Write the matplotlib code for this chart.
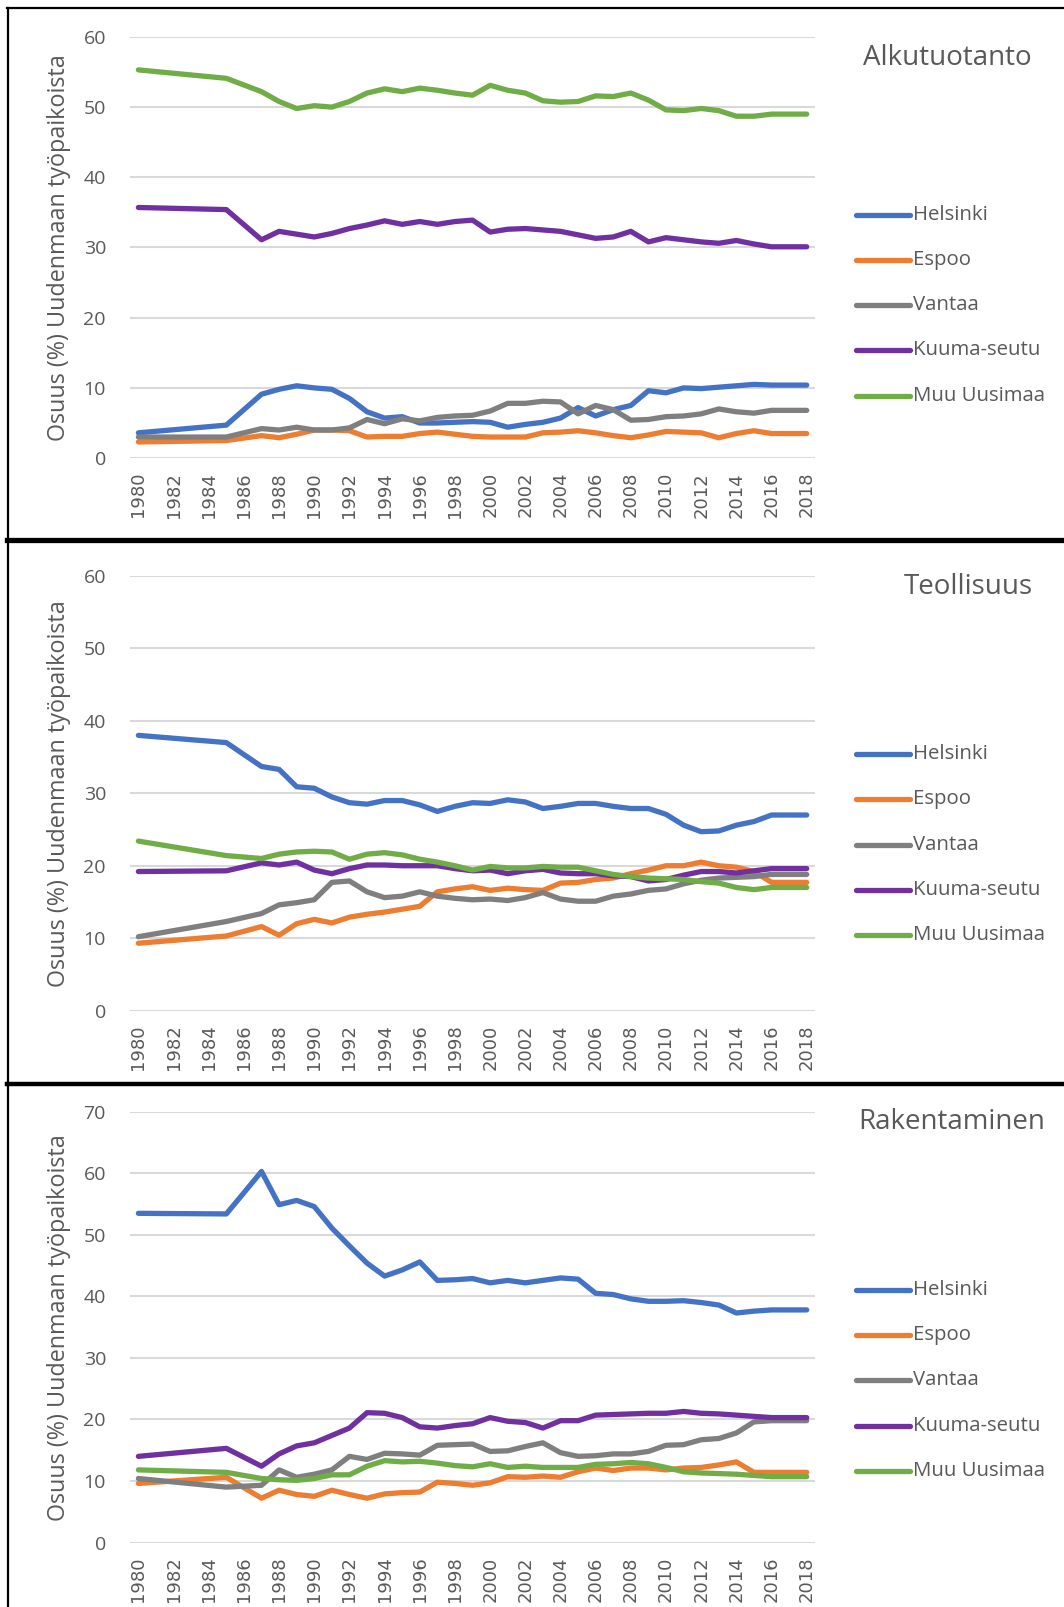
import matplotlib
matplotlib.use("Agg")
import matplotlib.pyplot as plt
from matplotlib.lines import Line2D

W, H = 1064, 1607

years = [1980, 1985] + list(range(1987, 2019))
tick_years = list(range(1980, 2019, 2))
series_names = ["Helsinki", "Espoo", "Vantaa", "Kuuma-seutu", "Muu Uusimaa"]
colors = ["#4472C4", "#ED7D31", "#7F7F7F", "#7030A0", "#70AD47"]
ylabel = "Osuus (%) Uudenmaan työpaikoista"

# Alkutuotanto
helsinki1 = [3.6, 4.7, 9.1, 9.8, 10.3, 10.0, 9.8, 8.5, 6.6, 5.7, 5.9, 5.0, 5.0, 5.1, 5.2, 5.1, 4.4, 4.8, 5.1, 5.7, 7.2, 6.0, 6.9, 7.5, 9.6, 9.3, 10.0, 9.9, 10.1, 10.3, 10.5, 10.4, 10.4, 10.4]
espoo1 = [2.3, 2.5, 3.2, 2.9, 3.4, 4.0, 4.0, 3.9, 3.0, 3.1, 3.1, 3.5, 3.7, 3.4, 3.1, 3.0, 3.0, 3.0, 3.6, 3.7, 3.9, 3.6, 3.2, 2.9, 3.3, 3.8, 3.7, 3.6, 2.9, 3.5, 3.9, 3.5, 3.5, 3.5]
vantaa1 = [3.0, 3.0, 4.2, 4.0, 4.4, 4.0, 4.0, 4.3, 5.5, 4.9, 5.6, 5.3, 5.8, 6.0, 6.1, 6.7, 7.8, 7.8, 8.1, 8.0, 6.3, 7.5, 6.9, 5.4, 5.5, 5.9, 6.0, 6.3, 7.0, 6.6, 6.4, 6.8, 6.8, 6.8]
kuuma1 = [35.7, 35.4, 31.1, 32.3, 31.9, 31.5, 32.0, 32.7, 33.2, 33.8, 33.3, 33.7, 33.3, 33.7, 33.9, 32.2, 32.6, 32.7, 32.5, 32.3, 31.8, 31.3, 31.5, 32.3, 30.8, 31.4, 31.1, 30.8, 30.6, 31.0, 30.5, 30.1, 30.1, 30.1]
muu1 = [55.3, 54.1, 52.2, 50.8, 49.8, 50.2, 50.0, 50.8, 52.0, 52.6, 52.2, 52.7, 52.4, 52.0, 51.7, 53.1, 52.4, 52.0, 50.9, 50.7, 50.8, 51.6, 51.5, 52.0, 51.0, 49.6, 49.5, 49.8, 49.5, 48.7, 48.7, 49.0, 49.0, 49.0]

# Teollisuus
helsinki2 = [38.0, 37.0, 33.7, 33.3, 30.9, 30.7, 29.5, 28.7, 28.5, 29.0, 29.0, 28.4, 27.5, 28.2, 28.7, 28.6, 29.1, 28.8, 27.9, 28.2, 28.6, 28.6, 28.2, 27.9, 27.9, 27.1, 25.6, 24.7, 24.8, 25.6, 26.1, 27.0, 27.0, 27.0]
espoo2 = [9.3, 10.3, 11.6, 10.4, 12.0, 12.6, 12.1, 12.9, 13.3, 13.6, 14.0, 14.4, 16.4, 16.8, 17.1, 16.6, 16.9, 16.7, 16.6, 17.6, 17.7, 18.1, 18.3, 18.9, 19.4, 20.0, 20.0, 20.5, 20.0, 19.8, 19.2, 17.7, 17.7, 17.7]
vantaa2 = [10.2, 12.3, 13.4, 14.6, 14.9, 15.3, 17.7, 17.9, 16.4, 15.6, 15.8, 16.4, 15.8, 15.5, 15.3, 15.4, 15.2, 15.6, 16.3, 15.4, 15.1, 15.1, 15.8, 16.1, 16.6, 16.8, 17.5, 18.0, 18.3, 18.4, 18.5, 18.8, 18.8, 18.8]
kuuma2 = [19.2, 19.3, 20.4, 20.1, 20.5, 19.4, 18.9, 19.6, 20.1, 20.1, 20.0, 20.0, 20.0, 19.6, 19.3, 19.4, 18.9, 19.3, 19.5, 19.0, 18.9, 18.9, 18.6, 18.5, 17.9, 18.1, 18.7, 19.2, 19.2, 19.0, 19.3, 19.6, 19.6, 19.6]
muu2 = [23.4, 21.4, 21.0, 21.6, 21.9, 22.0, 21.9, 20.9, 21.6, 21.8, 21.5, 20.9, 20.5, 20.0, 19.4, 19.9, 19.7, 19.7, 19.9, 19.8, 19.8, 19.3, 18.8, 18.5, 18.3, 18.2, 18.1, 17.8, 17.6, 17.0, 16.7, 17.0, 17.0, 17.0]

# Rakentaminen
helsinki3 = [53.5, 53.4, 60.3, 54.9, 55.6, 54.6, 51.1, 48.2, 45.4, 43.3, 44.3, 45.6, 42.6, 42.7, 42.9, 42.2, 42.6, 42.2, 42.6, 43.0, 42.8, 40.5, 40.3, 39.6, 39.2, 39.2, 39.3, 39.0, 38.6, 37.3, 37.6, 37.8, 37.8, 37.8]
espoo3 = [9.6, 10.6, 7.2, 8.5, 7.8, 7.5, 8.5, 7.8, 7.2, 7.9, 8.1, 8.2, 9.8, 9.6, 9.3, 9.7, 10.7, 10.6, 10.8, 10.6, 11.5, 12.1, 11.7, 12.1, 12.1, 11.8, 12.1, 12.2, 12.6, 13.1, 11.4, 11.4, 11.4, 11.4]
vantaa3 = [10.4, 9.0, 9.3, 11.8, 10.6, 11.1, 11.8, 14.0, 13.5, 14.5, 14.4, 14.2, 15.8, 15.9, 16.0, 14.8, 14.9, 15.6, 16.2, 14.6, 14.0, 14.1, 14.4, 14.4, 14.8, 15.8, 15.9, 16.7, 16.9, 17.8, 19.6, 19.8, 19.8, 19.8]
kuuma3 = [14.0, 15.3, 12.4, 14.4, 15.7, 16.2, 17.4, 18.6, 21.1, 21.0, 20.3, 18.8, 18.6, 19.0, 19.3, 20.3, 19.7, 19.5, 18.6, 19.8, 19.8, 20.7, 20.8, 20.9, 21.0, 21.0, 21.3, 21.0, 20.9, 20.7, 20.5, 20.3, 20.3, 20.3]
muu3 = [11.8, 11.4, 10.4, 10.2, 10.1, 10.4, 11.0, 11.0, 12.4, 13.3, 13.1, 13.2, 12.9, 12.5, 12.3, 12.8, 12.2, 12.4, 12.2, 12.2, 12.2, 12.7, 12.8, 13.0, 12.8, 12.2, 11.5, 11.3, 11.2, 11.1, 10.9, 10.7, 10.7, 10.7]

panels = [
    dict(title="Alkutuotanto", data=[helsinki1, espoo1, vantaa1, kuuma1, muu1],
         ymax=60, top=36.9, bottom=458.1, title_xy=(947, 58),
         leg_y=[215, 260, 305, 350, 396], ylab_y=248),
    dict(title="Teollisuus", data=[helsinki2, espoo2, vantaa2, kuuma2, muu2],
         ymax=60, top=576.0, bottom=1010.6, title_xy=(968, 587),
         leg_y=[754, 799, 845, 890, 935], ylab_y=794),
    dict(title="Rakentaminen", data=[helsinki3, espoo3, vantaa3, kuuma3, muu3],
         ymax=70, top=1111.8, bottom=1542.5, title_xy=(952, 1122),
         leg_y=[1290, 1335, 1380, 1426, 1471], ylab_y=1328),
]

TXT = "#595959"
FONT = ["Open Sans", "DejaVu Sans"]

fig = plt.figure(figsize=(W / 100, H / 100), dpi=100)
fig.patch.set_facecolor("white")


def fx(x):
    return x / W


def fy(y):
    return 1 - y / H


x_left, x_right = 129.6, 815.5
for p in panels:
    ax = fig.add_axes([fx(x_left), fy(p["bottom"]), (x_right - x_left) / W,
                       (p["bottom"] - p["top"]) / H])
    ax.set_xlim(1979.5, 2018.5)
    ax.set_ylim(0, p["ymax"])
    ax.set_yticks(list(range(0, p["ymax"] + 1, 10)))
    ax.set_xticks(tick_years)
    ax.set_xticklabels([str(y) for y in tick_years], rotation=90,
                       fontsize=13, color=TXT, family=["DejaVu Sans"])
    for lab in ax.get_yticklabels():
        lab.set_fontsize(14)
        lab.set_color(TXT)
        lab.set_family(FONT)
    ax.tick_params(axis="y", length=0, pad=17)
    ax.tick_params(axis="x", length=0, pad=10)
    for s in ax.spines.values():
        s.set_visible(False)
    ax.grid(axis="y", color="#D9D9D9", linewidth=1.5)
    ax.set_axisbelow(True)
    ax.patch.set_alpha(0)
    for vals, c in zip(p["data"], colors):
        ax.plot(years, vals, color=c, linewidth=3.8, solid_joinstyle="round",
                solid_capstyle="round", clip_on=False, zorder=3)
    fig.text(fx(p["title_xy"][0]), fy(p["title_xy"][1]), p["title"],
             ha="center", va="center", fontsize=20, color=TXT, family=FONT)
    fig.text(fx(59.5), fy(p["ylab_y"]), ylabel, rotation=90, ha="center",
             va="center", fontsize=16.8, color=TXT, family=FONT)
    for name, c, ly in zip(series_names, colors, p["leg_y"]):
        fig.add_artist(Line2D([fx(856), fx(910)], [fy(ly), fy(ly)], color=c,
                              linewidth=3.8, solid_capstyle="round",
                              transform=fig.transFigure))
        fig.text(fx(913), fy(ly), name, ha="left", va="center", fontsize=14.7,
                 color=TXT, family=FONT)

# panel frames
def hline(y, x0, x1, lw):
    fig.add_artist(Line2D([fx(x0), fx(x1)], [fy(y), fy(y)], color="black",
                          linewidth=lw, transform=fig.transFigure))


def vline(x, y0, y1, lw):
    fig.add_artist(Line2D([fx(x), fx(x)], [fy(y0), fy(y1)], color="black",
                          linewidth=lw, transform=fig.transFigure))


hline(8, 7, W, 1.6)
vline(7.5, 8, H, 1.6)
hline(540, 7, W, 3.8)
hline(1084, 7, W, 3.2)

fig.savefig("out.png", dpi=100, facecolor="white")
